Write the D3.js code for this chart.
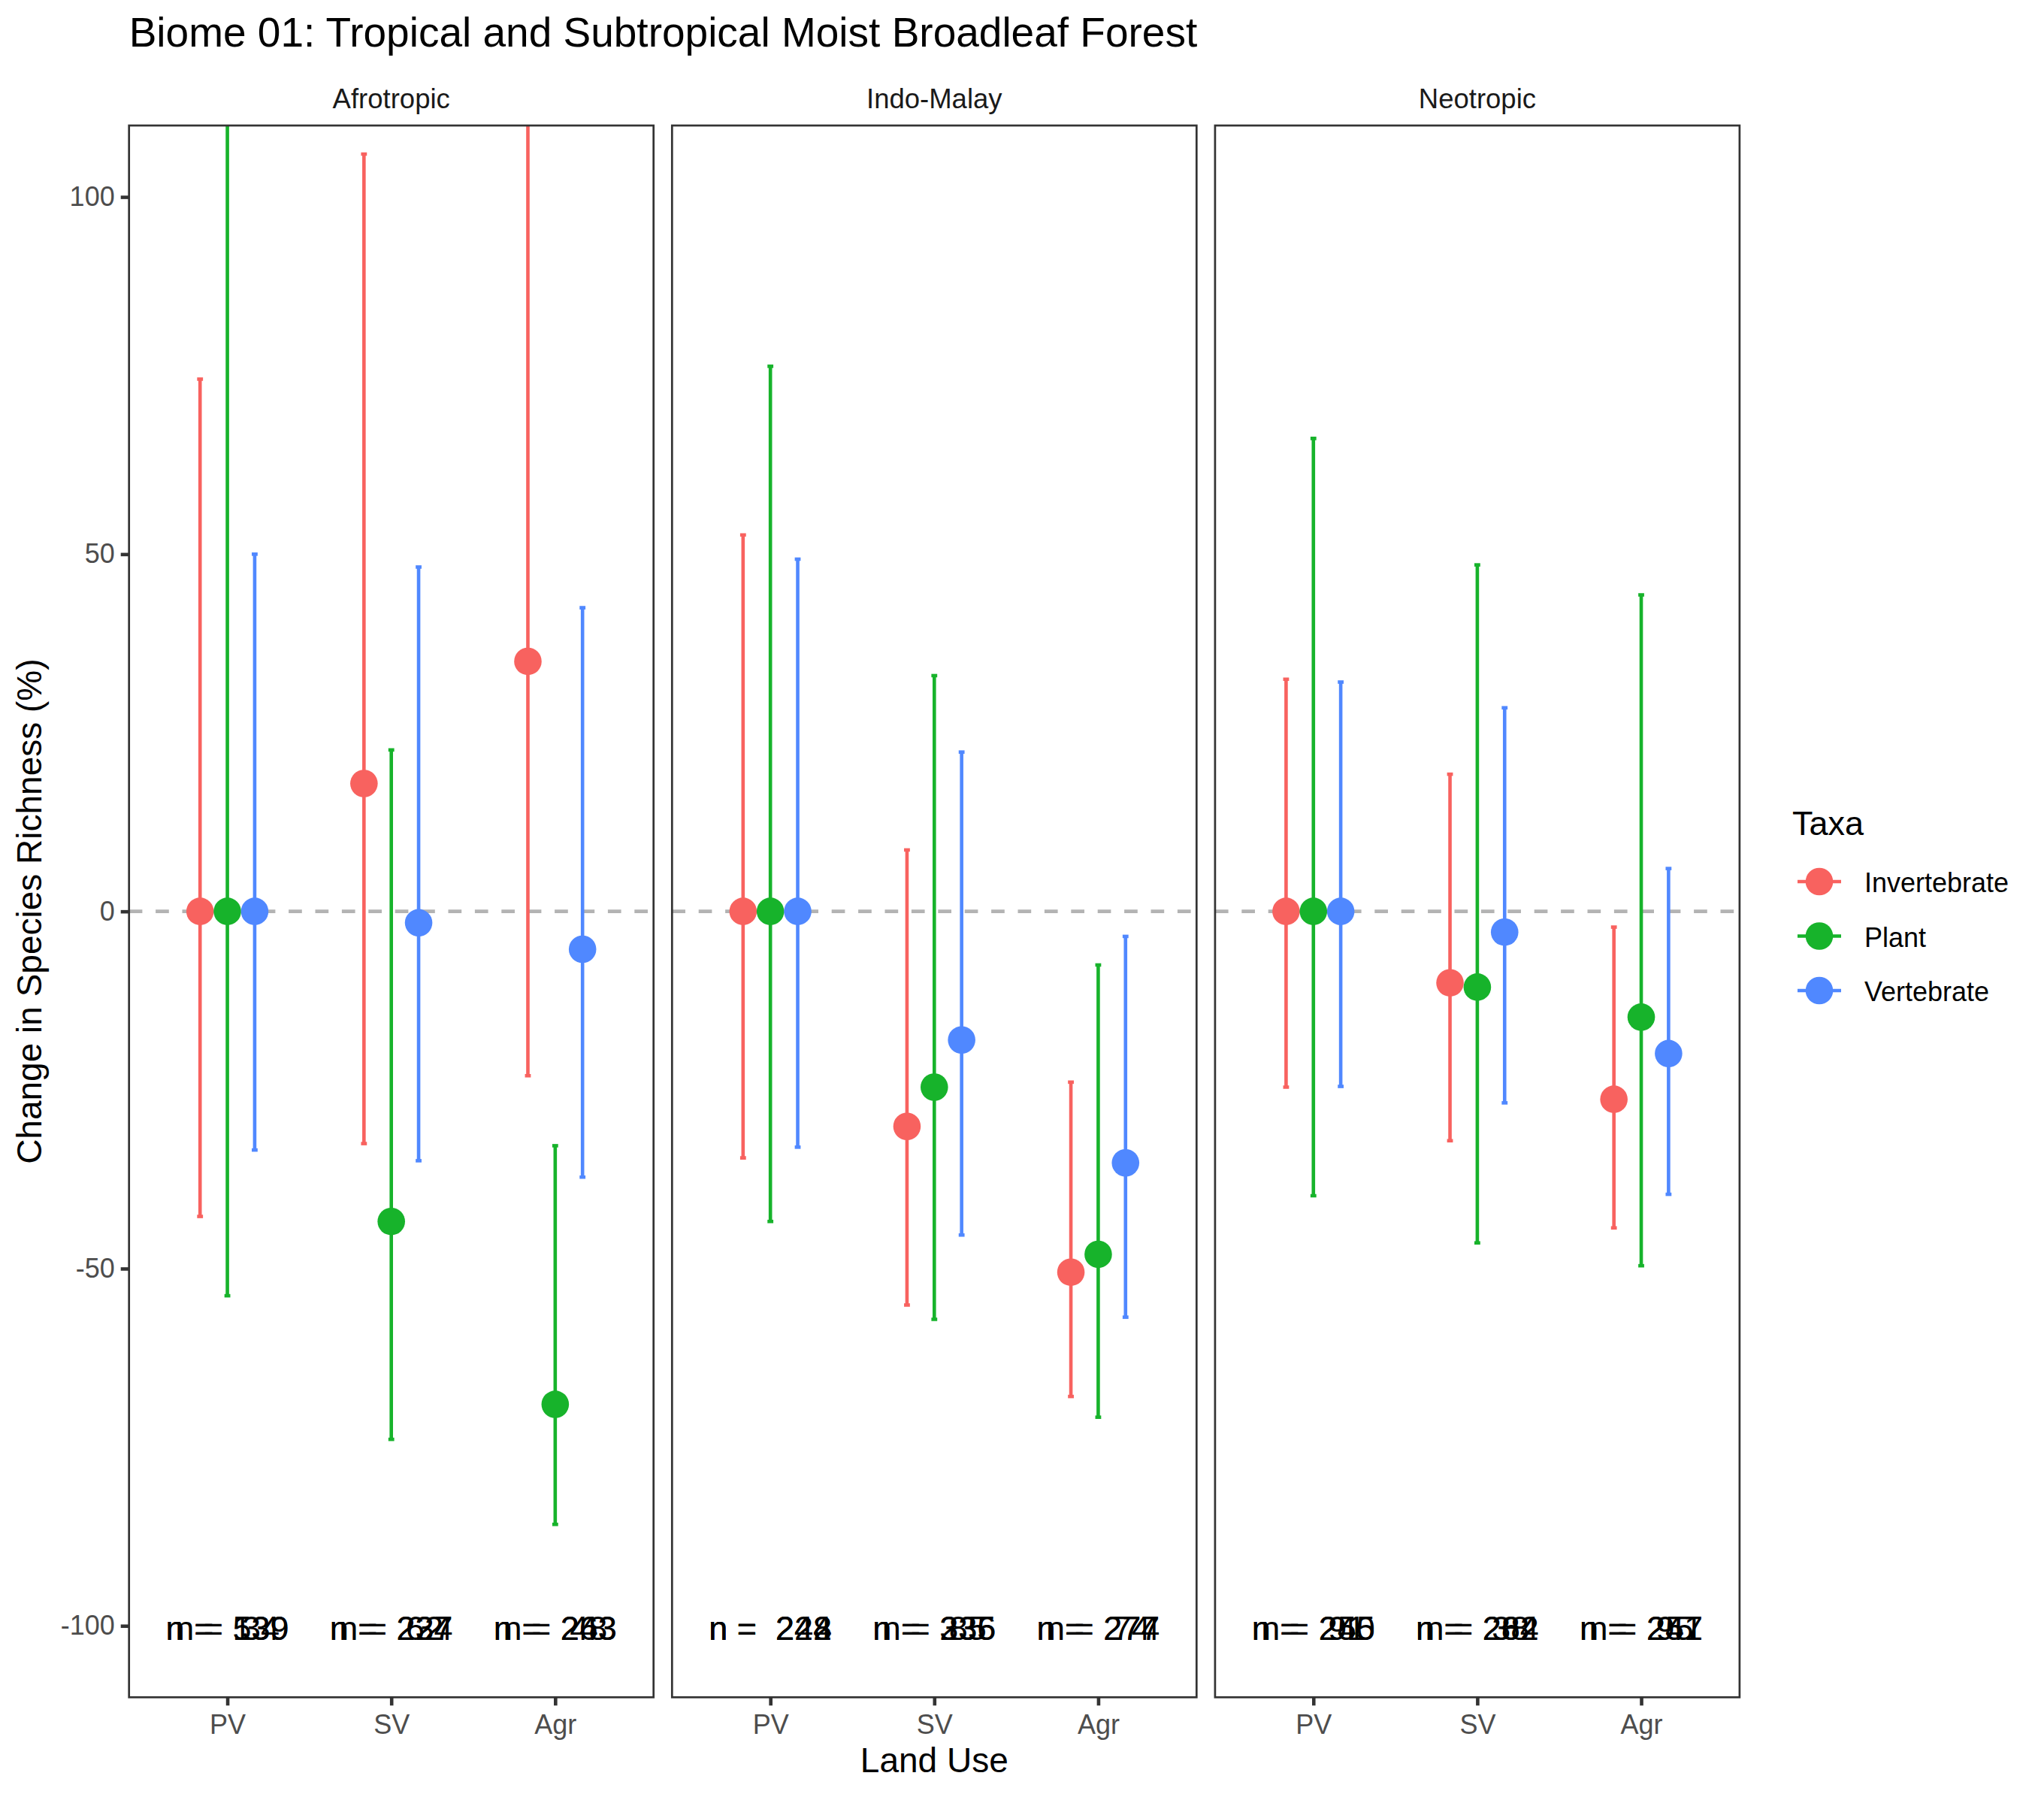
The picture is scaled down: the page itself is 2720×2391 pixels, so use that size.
<!DOCTYPE html>
<html>
<head>
<meta charset="utf-8">
<script src="https://cdn.jsdelivr.net/npm/d3@7"></script>
<style>
  body { margin: 0; background: #fff; }
  text { font-family: "Liberation Sans", Arial, sans-serif; }
</style>
</head>
<body>
<svg id="chart" width="2720" height="2391"></svg>
<script>
const regions = ["Afrotropic", "Indo-Malay", "Neotropic"];
const landUses = ["PV", "SV", "Agr"];
const taxa = ["Invertebrate", "Plant", "Vertebrate"];
const taxaColors = ["#F8625F", "#17B32B", "#5088FF"];
const yTicks = [-100, -50, 0, 50, 100];

// each list runs PV, SV, Agr; one list per taxon, one block per region
const afroMean = [[0, 17.9, 35], [0, -43.4, -69], [0, -1.6, -5.3]];
const afroHigh = [[74.5, 106, 125], [125, 22.6, -32.8], [50, 48.2, 42.5]];
const afroLow = [[-42.7, -32.5, -23], [-53.8, -73.9, -85.8], [-33.4, -34.9, -37.2]];
const afroCounts = [["539", "224", "263"], ["139", "237", "243"], ["34", "62", "48"]];

const indoMean = [[0, -30.1, -50.5], [0, -24.6, -48], [0, -18, -35.2]];
const indoHigh = [[52.7, 8.6, -23.9], [76.3, 33, -7.5], [49.3, 22.3, -3.5]];
const indoLow = [[-34.5, -55.1, -67.9], [-43.4, -57.1, -70.8], [-33, -45.3, -56.8]];
const indoCounts = [["224", "236", "277"], ["248", "335", "274"], ["242", "85", "74"]];

const neoMean = [[0, -10, -26.3], [0, -10.6, -14.8], [0, -2.9, -19.9]];
const neoHigh = [[32.5, 19.2, -2.2], [66.2, 48.5, 44.3], [32.1, 28.5, 6]];
const neoLow = [[-24.6, -32.1, -44.3], [-39.8, -46.4, -49.6], [-24.5, -26.8, -39.6]];
const neoCounts = [["250", "282", "257"], ["245", "264", "241"], ["91", "38", "95"]];

const panels = [
  { mean: afroMean, high: afroHigh, low: afroLow, counts: afroCounts },
  { mean: indoMean, high: indoHigh, low: indoLow, counts: indoCounts },
  { mean: neoMean, high: neoHigh, low: neoLow, counts: neoCounts }
];

const svg = d3.select("#chart");

const panelLeft = 171.7;
const panelWidth = 698;
const panelGap = 24.6;
const panelTop = 167;
const panelBottom = 2258.3;

const y = d3.scaleLinear().domain([-110, 110]).range([panelBottom, panelTop]);
const x = d3.scalePoint().domain(landUses).range([0, panelWidth]).padding(0.6);
// dodge of 0.5 shared by the three taxa
const dodge = d3.scalePoint().domain(taxa).range([-x.step() / 6, x.step() / 6]);
const color = d3.scaleOrdinal().domain(taxa).range(taxaColors);

svg.append("text")
  .attr("x", panelLeft)
  .attr("y", 62)
  .attr("font-size", 55)
  .attr("id", "title")
  .text("Biome 01: Tropical and Subtropical Moist Broadleaf Forest");

panels.forEach((p, pi) => {
  const left = panelLeft + pi * (panelWidth + panelGap);
  const g = svg.append("g").attr("transform", `translate(${left},0)`);

  svg.append("clipPath")
    .attr("id", "clip" + pi)
    .append("rect")
    .attr("x", 0)
    .attr("y", panelTop)
    .attr("width", panelWidth)
    .attr("height", panelBottom - panelTop);

  const plot = g.append("g").attr("clip-path", `url(#clip${pi})`);

  plot.append("line")
    .attr("x1", 0)
    .attr("x2", panelWidth)
    .attr("y1", y(0))
    .attr("y2", y(0))
    .attr("stroke", "#B3B3B3")
    .attr("stroke-width", 4.6)
    .attr("stroke-dasharray", "17.7,17.7");

  taxa.forEach((t, ti) => {
    const rows = landUses.map((lu, li) => ({
      lu: lu,
      mean: p.mean[ti][li],
      high: p.high[ti][li],
      low: p.low[ti][li],
      cx: x(lu) + dodge(t)
    }));
    const s = plot.append("g").attr("fill", color(t)).attr("stroke", color(t));
    s.selectAll(".bar").data(rows).enter().append("line")
      .attr("class", "bar")
      .attr("x1", (d) => d.cx)
      .attr("x2", (d) => d.cx)
      .attr("y1", (d) => y(d.low))
      .attr("y2", (d) => y(d.high))
      .attr("stroke-width", 4.6);
    // the caps are tiny, errorbar width is close to nothing
    ["low", "high"].forEach((end) => {
      s.selectAll(".cap-" + end).data(rows).enter().append("line")
        .attr("class", "cap-" + end)
        .attr("x1", (d) => d.cx - 3.9)
        .attr("x2", (d) => d.cx + 3.9)
        .attr("y1", (d) => y(d[end]))
        .attr("y2", (d) => y(d[end]))
        .attr("stroke-width", 4.6);
    });
  });

  taxa.forEach((t, ti) => {
    plot.selectAll(".pt" + ti)
      .data(landUses.map((lu, li) => ({ cx: x(lu) + dodge(t), v: p.mean[ti][li] })))
      .enter()
      .append("circle")
      .attr("class", "pt" + ti)
      .attr("cx", (d) => d.cx)
      .attr("cy", (d) => y(d.v))
      .attr("r", 18.3)
      .attr("fill", color(t));
  });

  // sample sizes, all three taxa printed on top of each other
  p.counts.forEach((row) => {
    g.selectAll(null)
      .data(row)
      .enter()
      .append("text")
      .attr("x", (d, i) => x(landUses[i]))
      .attr("y", y(-100) + 18.5)
      .attr("text-anchor", "middle")
      .attr("font-size", 45)
      .attr("fill", "#000")
      .style("white-space", "pre")
      .text((d) => "n =  " + d);
  });

  g.append("rect")
    .attr("x", 0)
    .attr("y", panelTop)
    .attr("width", panelWidth)
    .attr("height", panelBottom - panelTop)
    .attr("fill", "none")
    .attr("stroke", "#333333")
    .attr("stroke-width", 2.7);

  g.append("text")
    .attr("x", panelWidth / 2)
    .attr("y", 144)
    .attr("text-anchor", "middle")
    .attr("font-size", 36.5)
    .attr("fill", "#1A1A1A")
    .text(regions[pi]);

  const xAxis = g.append("g")
    .attr("transform", `translate(0,${panelBottom})`)
    .call(d3.axisBottom(x).tickSize(11).tickPadding(12));
  xAxis.select(".domain").remove();
  xAxis.selectAll("line").attr("stroke", "#333333").attr("stroke-width", 4.6);
  xAxis.selectAll("text").attr("font-size", 36).attr("fill", "#4D4D4D").attr("font-family", null);

  if (pi === 0) {
    // plain hyphen on the negative ticks, as R prints them
    const yAxis = g.append("g")
      .call(d3.axisLeft(y).tickValues(yTicks).tickSize(11).tickPadding(8).tickFormat((d) => String(d)));
    yAxis.select(".domain").remove();
    yAxis.selectAll("line").attr("stroke", "#333333").attr("stroke-width", 4.6);
    yAxis.selectAll("text").attr("font-size", 36).attr("fill", "#4D4D4D").attr("font-family", null);
  }
});

svg.append("text")
  .attr("x", panelLeft + (3 * panelWidth + 2 * panelGap) / 2)
  .attr("y", 2358)
  .attr("text-anchor", "middle")
  .attr("font-size", 46)
  .text("Land Use");

svg.append("text")
  .attr("transform", `translate(55,${(panelTop + panelBottom) / 2}) rotate(-90)`)
  .attr("text-anchor", "middle")
  .attr("font-size", 46)
  .text("Change in Species Richness (%)");

// legend
const legend = svg.append("g");
legend.append("text")
  .attr("x", 2385)
  .attr("y", 1111)
  .attr("font-size", 45)
  .text("Taxa");

const legendY = d3.scalePoint().domain(taxa).range([1173, 1318]);
const key = legend.selectAll(".key").data(taxa).enter().append("g")
  .attr("class", "key")
  .attr("transform", (d) => `translate(2421,${legendY(d)})`);
key.append("line")
  .attr("x1", -29)
  .attr("x2", 29)
  .attr("stroke", (d) => color(d))
  .attr("stroke-width", 4.6);
key.append("circle")
  .attr("r", 18.3)
  .attr("fill", (d) => color(d));
key.append("text")
  .attr("x", 60)
  .attr("y", 14)
  .attr("font-size", 36)
  .text((d) => d);
</script>
</body>
</html>
